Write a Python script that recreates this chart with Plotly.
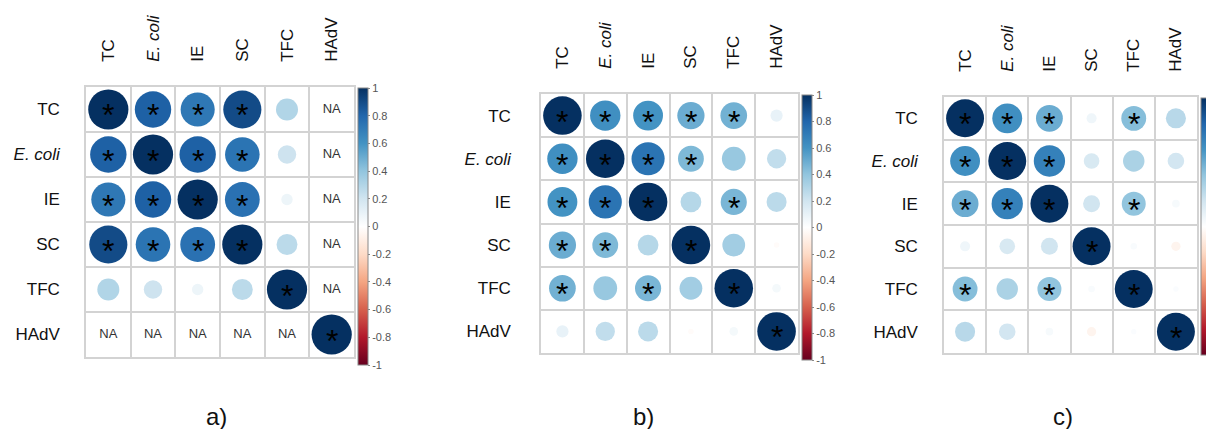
import math
import plotly.graph_objects as go

# ---------------- data ----------------
variables = ["TC", "<i>E. coli</i>", "IE", "SC", "TFC", "HAdV"]
panel_labels = ["a)", "b)", "c)"]

# correlation matrices (None = NA)
corr_a = [
    [1.00, 0.82, 0.72, 0.90, 0.30, None],
    [0.82, 1.00, 0.82, 0.74, 0.21, None],
    [0.72, 0.82, 1.00, 0.75, 0.08, None],
    [0.90, 0.74, 0.75, 1.00, 0.27, None],
    [0.30, 0.21, 0.08, 0.27, 1.00, None],
    [None, None, None, None, None, 1.00],
]
corr_b = [
    [1.00, 0.62, 0.60, 0.50, 0.48, 0.10],
    [0.62, 1.00, 0.74, 0.45, 0.38, 0.25],
    [0.60, 0.74, 1.00, 0.29, 0.46, 0.27],
    [0.50, 0.45, 0.29, 1.00, 0.35, -0.02],
    [0.48, 0.38, 0.46, 0.35, 1.00, 0.05],
    [0.10, 0.25, 0.27, -0.02, 0.05, 1.00],
]
corr_c = [
    [1.00, 0.62, 0.50, 0.07, 0.43, 0.28],
    [0.62, 1.00, 0.68, 0.17, 0.32, 0.19],
    [0.50, 0.68, 1.00, 0.20, 0.40, 0.04],
    [0.07, 0.17, 0.20, 1.00, 0.03, -0.06],
    [0.43, 0.32, 0.40, 0.03, 1.00, 0.02],
    [0.28, 0.19, 0.04, -0.06, 0.02, 1.00],
]

# significance flags (1 = '*')
sig_a = [
    [1, 1, 1, 1, 0, 0],
    [1, 1, 1, 1, 0, 0],
    [1, 1, 1, 1, 0, 0],
    [1, 1, 1, 1, 0, 0],
    [0, 0, 0, 0, 1, 0],
    [0, 0, 0, 0, 0, 1],
]
sig_b = [
    [1, 1, 1, 1, 1, 0],
    [1, 1, 1, 1, 0, 0],
    [1, 1, 1, 0, 1, 0],
    [1, 1, 0, 1, 0, 0],
    [1, 0, 1, 0, 1, 0],
    [0, 0, 0, 0, 0, 1],
]
sig_c = [
    [1, 1, 1, 0, 1, 0],
    [1, 1, 1, 0, 0, 0],
    [1, 1, 1, 0, 1, 0],
    [0, 0, 0, 1, 0, 0],
    [1, 0, 1, 0, 1, 0],
    [0, 0, 0, 0, 0, 1],
]

cbar_vals = [1, 0.8, 0.6, 0.4, 0.2, 0, -0.2, -0.4, -0.6, -0.8, -1]
cbar_text = ["1", "0.8", "0.6", "0.4", "0.2", "0", "-0.2", "-0.4", "-0.6", "-0.8", "-1"]

# ---------------- layout / style ----------------
W, H = 1214, 429
FONT = "Liberation Sans, Arial, sans-serif"
GRID = "#d3d3d3"
colorscale_hex = ["#67001F", "#B2182B", "#D6604D", "#F4A582", "#FDDBC7", "#FFFFFF",
                  "#D1E5F0", "#92C5DE", "#4393C3", "#2166AC", "#053061"]
colorscale = [[i / (len(colorscale_hex) - 1), c] for i, c in enumerate(colorscale_hex)]

# pixel geometry of each panel (grid box, colorbar, panel label, label standoff)
panels = [
    dict(x0=78, x1=346, y0=79, y1=349, cbx=350, cby0=80, cby1=357, lx=208, ystand=21),
    dict(x0=533, x1=790, y0=86, y1=345, cbx=794, cby0=87, cby1=352, lx=635, ystand=25),
    dict(x0=936, x1=1189, y0=89, y1=345, cbx=1193, cby0=90, cby1=347, lx=1055, ystand=21),
]
LABEL_Y = 408


def fx(p):
    return p / W


def fy(p):
    return 1 - p / H


fig = go.Figure()
annotations = []
n = len(variables)
idx = list(range(n))

for k, (corr, sig, geo) in enumerate(zip([corr_a, corr_b, corr_c],
                                         [sig_a, sig_b, sig_c], panels)):
    sfx = "" if k == 0 else str(k + 1)
    xref, yref = "x" + sfx, "y" + sfx
    cell = (geo["x1"] - geo["x0"]) / n

    xs, ys, vals, sizes = [], [], [], []
    na_x, na_y = [], []
    for i in range(n):
        for j in range(n):
            v = corr[i][j]
            if v is None:
                na_x.append(j)
                na_y.append(i)
                continue
            xs.append(j)
            ys.append(i)
            vals.append(v)
            sizes.append(0.9 * math.sqrt(abs(v)) * cell)
            if sig[i][j]:
                annotations.append(dict(
                    x=j, y=i, xref=xref, yref=yref, text="*", showarrow=False,
                    font=dict(family=FONT, size=32, color="black"), yshift=-6))

    fig.add_trace(go.Scatter(
        x=xs, y=ys, mode="markers", xaxis=xref, yaxis=yref,
        marker=dict(
            size=sizes, color=vals, colorscale=colorscale, cmin=-1, cmax=1,
            line=dict(width=0), opacity=1,
            colorbar=dict(
                x=fx(geo["cbx"]), xanchor="left", xref="paper",
                y=fy((geo["cby0"] + geo["cby1"]) / 2), yanchor="middle", yref="paper",
                thickness=10, thicknessmode="pixels",
                len=geo["cby1"] - geo["cby0"], lenmode="pixels",
                xpad=0, ypad=0, outlinecolor="#888888", outlinewidth=1,
                tickvals=cbar_vals, ticktext=cbar_text, ticks="outside",
                ticklen=2, tickcolor="#888888",
                tickfont=dict(family=FONT, size=11, color="#555555"),
            ),
        ),
        hoverinfo="skip", showlegend=False,
    ))

    if na_x:
        fig.add_trace(go.Scatter(
            x=na_x, y=na_y, mode="text", text=["NA"] * len(na_x),
            textposition="middle center", xaxis=xref, yaxis=yref,
            textfont=dict(family=FONT, size=13, color="#333333"),
            hoverinfo="skip", showlegend=False,
        ))

    axis_common = dict(
        range=[-0.5, n - 0.5], showgrid=False, zeroline=False,
        showline=True, mirror=True, linecolor=GRID, linewidth=1.5,
        tickmode="array", tickvals=idx, ticktext=variables, ticks="",
        tickfont=dict(family=FONT, size=17, color="#111111"),
        minor=dict(tickmode="linear", tick0=-0.5, dtick=1, showgrid=True,
                   gridcolor=GRID, gridwidth=1.5, ticks=""),
        fixedrange=True,
    )
    fig.update_layout(**{
        "xaxis" + sfx: dict(axis_common, domain=[fx(geo["x0"]), fx(geo["x1"])],
                            side="top", tickangle=-90, anchor=yref,
                            ticklabelstandoff=20),
        "yaxis" + sfx: dict(axis_common, domain=[fy(geo["y1"]), fy(geo["y0"])],
                            range=[n - 0.5, -0.5], anchor=xref,
                            ticklabelstandoff=geo["ystand"]),
    })

    annotations.append(dict(
        x=fx(geo["lx"]), y=fy(LABEL_Y), xref="paper", yref="paper",
        text=panel_labels[k], showarrow=False, xanchor="center", yanchor="middle",
        font=dict(family=FONT, size=24, color="#111111")))

fig.update_layout(
    width=W, height=H,
    margin=dict(l=0, r=0, t=0, b=0, autoexpand=False),
    paper_bgcolor="white", plot_bgcolor="white",
    annotations=annotations,
    font=dict(family=FONT),
)

fig.write_html("out.html")
